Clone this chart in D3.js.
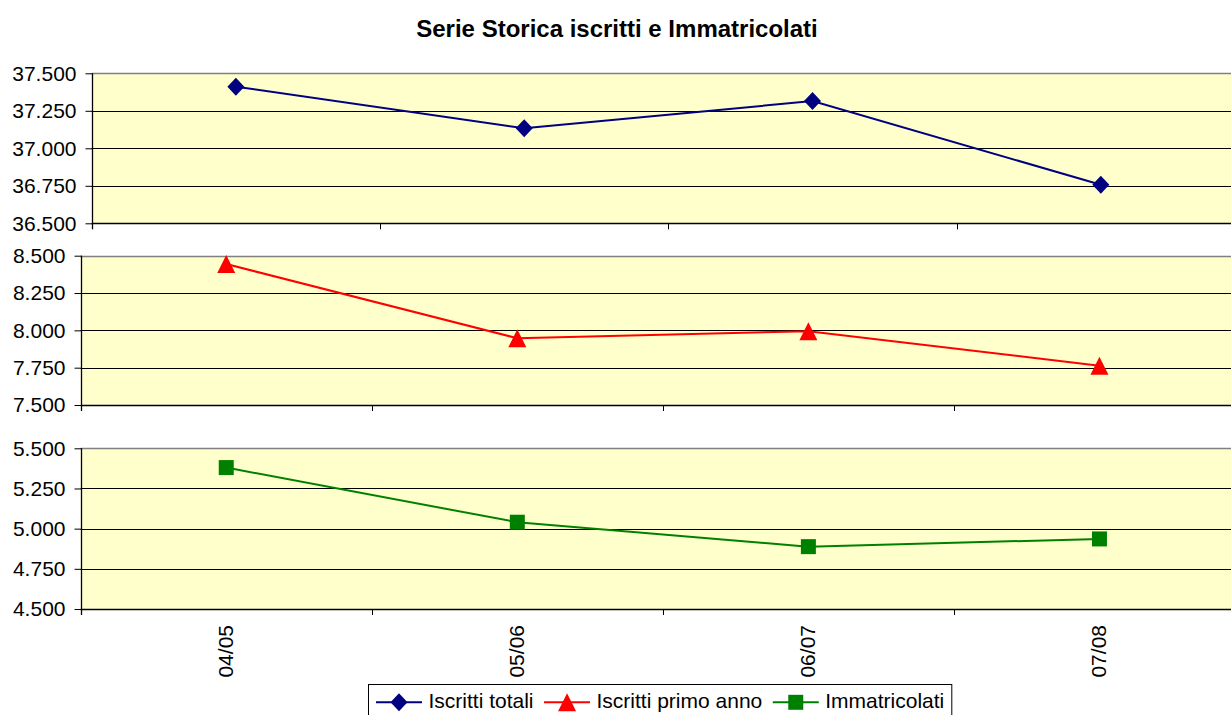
<!DOCTYPE html>
<html>
<head>
<meta charset="utf-8">
<script src="https://cdn.jsdelivr.net/npm/d3@7"></script>
<style>
  html, body { margin: 0; padding: 0; background: #fff; }
  svg { display: block; font-family: "Liberation Sans", Arial, sans-serif; }
</style>
</head>
<body>
<svg id="chart" width="1231" height="715"></svg>
<script>
// ---- data ----
const categories = ["04/05", "05/06", "06/07", "07/08"];
const iscrittiTotali = [37411, 37133, 37315, 36757];
const iscrittiPrimoAnno = [8444, 7947, 7994, 7763];
const immatricolati = [5380, 5040, 4888, 4936];
const seriesNames = ["Iscritti totali", "Iscritti primo anno", "Immatricolati"];
const ticksTotali = [36500, 36750, 37000, 37250, 37500];
const ticksPrimo = [7500, 7750, 8000, 8250, 8500];
const ticksImm = [4500, 4750, 5000, 5250, 5500];
const titleText = "Serie Storica iscritti e Immatricolati";

// ---- styling / layout ----
const colors = ["#000080", "#FF0000", "#008000"];
const symbols = [d3.symbolDiamond, d3.symbolTriangle, d3.symbolSquare];
const itLocale = d3.formatLocale({decimal: ",", thousands: ".", grouping: [3], currency: ["€", ""]});
const fmt = itLocale.format(",.0f");

const svg = d3.select("#chart");
const W = 1231, H = 715;
svg.append("rect").attr("width", W).attr("height", H).attr("fill", "#fff");

svg.append("text")
  .attr("x", 617).attr("y", 37)
  .attr("text-anchor", "middle")
  .attr("font-size", 24).attr("font-weight", "bold")
  .attr("fill", "#000")
  .text(titleText);

const panels = [
  {values: iscrittiTotali, ticks: ticksTotali, left: 91.7, top: 73.3, bottom: 223.3, si: 0, labels: false},
  {values: iscrittiPrimoAnno, ticks: ticksPrimo, left: 80.7, top: 255.7, bottom: 405, si: 1, labels: false},
  {values: immatricolati, ticks: ticksImm, left: 80.7, top: 448.3, bottom: 609, si: 2, labels: true}
];
const plotRight = 1245;

function markerPath(si, sz) {
  if (si === 0) {
    // diamond, slightly taller than wide
    const w = 8.5, h = 9;
    return `M0,${-h}L${w},0L0,${h}L${-w},0Z`;
  }
  if (si === 1) {
    const w = 9, h = 9;
    return `M0,${-h}L${w},${h}L${-w},${h}Z`;
  }
  const s = 7.5;
  return `M${-s},${-s}H${s}V${s}H${-s}Z`;
}

panels.forEach(p => {
  const g = svg.append("g");
  const x = d3.scaleBand().domain(categories).range([p.left, plotRight]).padding(0);
  const y = d3.scaleLinear().domain([p.ticks[0], p.ticks[p.ticks.length - 1]]).range([p.bottom, p.top]);

  // background
  g.append("rect")
    .attr("x", p.left).attr("y", p.top)
    .attr("width", plotRight - p.left).attr("height", p.bottom - p.top)
    .attr("fill", "#FFFFCC");

  // gridlines
  g.selectAll("line.grid").data(p.ticks.slice(1, -1)).enter().append("line")
    .attr("x1", p.left).attr("x2", plotRight)
    .attr("y1", d => Math.round(y(d)) + 0.5).attr("y2", d => Math.round(y(d)) + 0.5)
    .attr("stroke", "#000").attr("stroke-width", 1);

  // top border (gray)
  g.append("line")
    .attr("x1", p.left).attr("x2", plotRight)
    .attr("y1", Math.round(p.top) + 0.5).attr("y2", Math.round(p.top) + 0.5)
    .attr("stroke", "#808080").attr("stroke-width", 1.5);

  // y axis
  const ya = d3.axisLeft(y).tickValues(p.ticks).tickFormat(fmt).tickSize(7).tickPadding(9).tickSizeOuter(0);
  const yg = g.append("g").attr("transform", `translate(${Math.round(p.left) + 0.5},0)`).call(ya);
  yg.select(".domain").remove();
  yg.selectAll(".tick line").attr("stroke", "#000");
  yg.selectAll(".tick text").attr("font-size", 21).attr("fill", "#000")
    .attr("font-family", "Liberation Sans, Arial, sans-serif");
  // vertical axis line extended
  g.append("line")
    .attr("x1", Math.round(p.left) + 0.5).attr("x2", Math.round(p.left) + 0.5)
    .attr("y1", p.top).attr("y2", p.bottom + 6)
    .attr("stroke", "#000").attr("stroke-width", 1.3);

  // x axis line
  g.append("line")
    .attr("x1", p.left).attr("x2", plotRight)
    .attr("y1", Math.round(p.bottom) + 0.5).attr("y2", Math.round(p.bottom) + 0.5)
    .attr("stroke", "#000").attr("stroke-width", 1.3);
  // x ticks at band boundaries
  g.selectAll("line.xt").data(categories.slice(1)).enter().append("line")
    .attr("x1", d => Math.round(x(d)) + 0.5).attr("x2", d => Math.round(x(d)) + 0.5)
    .attr("y1", p.bottom).attr("y2", p.bottom + 6)
    .attr("stroke", "#000").attr("stroke-width", 1);

  // x labels
  if (p.labels) {
    g.selectAll("text.xl").data(categories).enter().append("text")
      .attr("transform", d => `translate(${x(d) + x.bandwidth() / 2 - 1},${p.bottom + 16}) rotate(-90)`)
      .attr("text-anchor", "end").attr("dy", "0.35em")
      .attr("font-size", 21).attr("fill", "#000")
      .text(d => d);
  }

  // line
  const line = d3.line()
    .x((d, i) => x(categories[i]) + x.bandwidth() / 2)
    .y(d => y(d));
  g.append("path").datum(p.values)
    .attr("d", line)
    .attr("fill", "none")
    .attr("stroke", colors[p.si]).attr("stroke-width", 2);

  g.selectAll("path.mk").data(p.values).enter().append("path")
    .attr("transform", (d, i) => `translate(${x(categories[i]) + x.bandwidth() / 2},${y(d)})`)
    .attr("d", markerPath(p.si))
    .attr("fill", colors[p.si]);
});

// legend
const lg = svg.append("g");
const lgBox = lg.append("rect")
  .attr("x", 368.5).attr("y", 684.5).attr("height", 40)
  .attr("fill", "#fff").attr("stroke", "#000").attr("stroke-width", 1);
let cx = 376;
const ly = 702.3;
seriesNames.forEach((name, i) => {
  lg.append("line").attr("x1", cx).attr("x2", cx + 46).attr("y1", ly).attr("y2", ly)
    .attr("stroke", colors[i]).attr("stroke-width", 2);
  lg.append("path").attr("transform", `translate(${cx + 23},${ly})`)
    .attr("d", markerPath(i)).attr("fill", colors[i]);
  const t = lg.append("text").attr("x", cx + 52.5).attr("y", 707.7)
    .attr("font-size", 21).attr("fill", "#000").text(name);
  const tw = t.node().getComputedTextLength();
  cx = cx + 52.5 + tw + 10.5;
});
lgBox.attr("width", cx - 10.5 + 7.5 - 368.5);
</script>
</body>
</html>
